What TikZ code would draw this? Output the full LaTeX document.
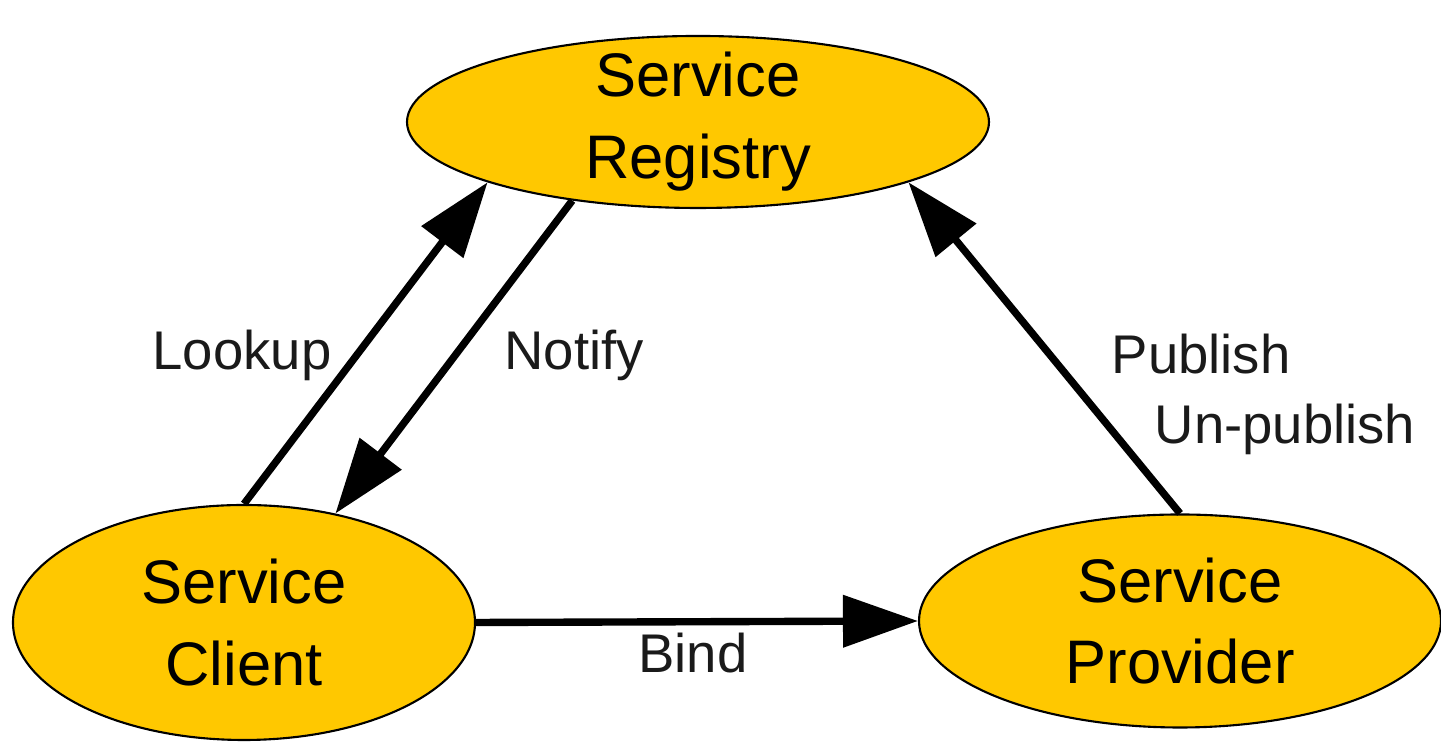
\documentclass[tikz,border=0pt]{standalone}
\usepackage{fontspec}
\setmainfont{Liberation Sans}
\usepackage{xcolor}
\usepackage{tikz}
\usetikzlibrary{shapes.geometric,arrows.meta}
\definecolor{gold}{HTML}{FFC800}
\definecolor{labelgray}{HTML}{1A1A1A}

\begin{document}
\begin{tikzpicture}[
    service/.style={ellipse, draw=black, line width=0.6pt, fill=gold, inner xsep=0pt, inner ysep=-2mm, align=center, font=\fontsize{17.5}{23.3}\selectfont},
    flow/.style={line width=2.1pt, -{Triangle[length=7.5mm, width=5.1mm]}},
    lbl/.style={anchor=base, text=labelgray, font=\fontsize{15.5}{19}\selectfont}
]
            \useasboundingbox (0,0) rectangle (14.41,7.43);
            \node[service, minimum width=5.82cm, minimum height=1.72cm] (registry) at (6.98,6.21) {Service\\Registry};
            \node[service, minimum width=4.62cm, minimum height=2.35cm] (client) at (2.44,1.205) {Service\\Client};
            \node[service, minimum width=5.22cm, minimum height=2.13cm] (provider) at (11.80,1.22) {Service\\Provider};
            \draw[flow] (client.north) -- (registry.196);
            \draw[flow] (registry.212) -- (client.50);
            \draw[flow] (provider.north) -- (registry.344);
            \draw[flow] (client.east) -- (provider.west);
            \node[lbl] (lookup) at (2.42,3.73) {Lookup};
            \node[lbl] (notify) at (5.74,3.73) {Notify};
            \node[lbl] (publish) at (12.01,3.69) {Publish};
            \node[lbl] (unpublish) at (12.85,2.99) {Un-publish};
            \node[lbl] (bind) at (6.93,0.70) {Bind};
        \end{tikzpicture}
\end{document}
